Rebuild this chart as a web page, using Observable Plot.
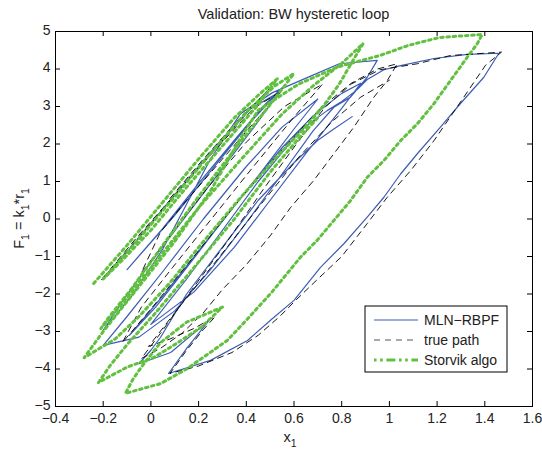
<!DOCTYPE html>
<html><head><meta charset="utf-8">
<script src="https://cdn.jsdelivr.net/npm/d3@7"></script>
<script src="https://cdn.jsdelivr.net/npm/@observablehq/plot@0.6"></script>
<style>body{margin:0;background:#fff}svg{font-family:"Liberation Sans",Arial,sans-serif}</style>
</head><body><div id="chart"></div>
<script>
const xTicks = [-0.4,-0.2,0,0.2,0.4,0.6,0.8,1,1.2,1.4,1.6];
const yTicks = [-5,-4,-3,-2,-1,0,1,2,3,4,5];
const seriesNames = ["MLN−RBPF","true path","Storvik algo"];
const titleText = "Validation: BW hysteretic loop";

const mlnRbpf = [
 [-0.19,-1.55],[-0.05,-0.5],[0.12,0.8],[0.28,2.0],[0.42,2.95],[0.53,3.35],
 [0.42,2.6],[0.26,1.35],[0.1,0.1],[-0.1,-1.35],
 [0.05,-0.25],[0.2,0.95],[0.35,2.1],[0.47,3.0],[0.55,3.5],
 [0.45,2.6],[0.3,1.35],[0.15,0.1],[0.0,-1.15],[-0.12,-2.2],[-0.2,-2.97],
 [-0.08,-2.05],[0.05,-0.8],[0.15,0.4],[0.25,1.6],[0.376,2.81],[0.51,3.37],[0.655,3.77],[0.79,4.14],[0.949,4.23],
 [0.907,3.78],[0.837,3.25],[0.767,2.98],[0.68,2.35],[0.55,1.2],[0.4,-0.1],[0.25,-1.35],[0.1,-2.45],[-0.05,-3.15],[-0.2,-3.37],
 [-0.1,-2.6],[0.05,-1.4],[0.22,0.0],[0.4,1.4],[0.55,2.45],[0.7,3.2],
 [0.6,2.4],[0.45,1.15],[0.3,-0.05],[0.15,-1.3],[0.02,-2.35],[-0.09,-3.1],
 [0.05,-2.05],[0.22,-0.7],[0.4,0.75],[0.55,1.9],[0.68,2.75],[0.8,3.35],[0.88,3.62],
 [0.8,2.95],[0.65,1.75],[0.5,0.5],[0.35,-0.75],[0.18,-1.95],[0.0,-2.81],
 [0.15,-1.6],[0.3,-0.3],[0.45,1.0],[0.56,1.85],[0.627,2.36],[0.683,2.63],[0.739,2.89],[0.795,3.11],[0.865,3.45],[0.907,3.72],[0.977,3.98],[1.047,4.09],[1.187,4.28],[1.327,4.39],[1.459,4.42],
 [1.396,3.78],[1.298,3.08],[1.214,2.45],[1.117,1.74],[1.047,1.2],[0.977,0.58],[0.907,0.05],[0.809,-0.66],[0.711,-1.29],[0.6,-2.17],[0.505,-2.68],[0.405,-3.24],[0.25,-3.77],[0.074,-4.12],
 [0.15,-3.45],[0.243,-2.71],
 [0.083,-3.56],[-0.05,-3.86],
 [0.0,-3.5],[0.04,-3.16],[0.15,-2.0],[0.3,-0.75],[0.45,0.5],[0.6,1.5],[0.7,2.1],[0.767,2.4],[0.844,2.73]
];

const truePath = [
 [0.08,0.55],[0.22,1.6],[0.36,2.6],[0.5,3.5],
 [0.42,2.95],[0.26,1.8],[0.1,0.65],[-0.06,-0.5],[-0.21,-1.64],
 [-0.07,-0.62],[0.1,0.62],[0.27,1.85],[0.43,2.95],[0.55,3.42],
 [0.45,2.7],[0.3,1.6],[0.15,0.5],[0.04,-0.35],[-0.04,-1.43],
 [0.08,-0.45],[0.24,0.85],[0.4,2.05],[0.56,3.0],[0.72,3.6],
 [0.6,2.72],[0.43,1.4],[0.26,0.05],[0.09,-1.3],[-0.04,-2.35],[-0.12,-3.3],
 [0.0,-2.4],[0.18,-1.0],[0.37,0.5],[0.55,1.85],[0.71,2.95],[0.84,3.62],[0.95,4.0],[1.033,4.14],
 [0.991,3.69],[0.935,3.25],[0.851,2.45],[0.767,1.74],[0.683,1.03],[0.586,0.31],[0.5,-0.45],[0.4,-1.22],[0.3,-1.88],[0.22,-2.5],[0.13,-3.05],[0.04,-3.45],[-0.04,-3.72],
 [0.04,-3.05],[0.17,-1.9],[0.32,-0.6],[0.47,0.78],[0.61,2.0],[0.73,2.98],[0.84,3.6],[0.96,3.98],[1.117,4.14],[1.256,4.36],[1.47,4.45],
 [1.403,4.1],[1.312,3.25],[1.187,2.09],[1.089,1.29],[0.991,0.58],[0.907,-0.12],[0.8,-1.0],[0.7,-1.6],[0.61,-2.15],[0.54,-2.6],[0.45,-3.1],[0.34,-3.56],[0.2,-3.92],[0.08,-4.12],
 [0.15,-3.5],[0.22,-2.95],[0.27,-2.6],
 [0.18,-2.92],[0.08,-3.2],[-0.01,-3.4],
 [0.1,-2.5],[0.27,-1.15],[0.45,0.3],[0.62,1.65],[0.76,2.6],[0.88,3.25],[1.0,3.7]
];

const storvik = [
 [-0.24,-1.72],[-0.1,-0.7],[0.05,0.45],[0.2,1.6],[0.35,2.7],[0.45,3.3],[0.53,3.74],
 [0.45,3.05],[0.3,1.95],[0.15,0.85],[0.0,-0.3],[-0.12,-1.1],[-0.2,-1.6],
 [-0.06,-0.6],[0.1,0.6],[0.25,1.75],[0.4,2.85],[0.52,3.55],[0.6,3.88],
 [0.5,3.05],[0.35,1.85],[0.2,0.6],[0.05,-0.7],[-0.08,-1.85],[-0.18,-2.65],[-0.21,-2.92],
 [-0.1,-2.1],[0.05,-0.9],[0.2,0.3],[0.38,1.6],[0.55,2.8],[0.68,3.55],[0.8,4.15],[0.89,4.68],
 [0.84,4.15],[0.79,3.6],[0.73,3.07],[0.66,2.54],[0.52,1.6],[0.376,0.57],[0.22,-0.6],[0.08,-1.7],[-0.05,-2.6],[-0.15,-3.2],[-0.28,-3.7],
 [-0.2,-3.0],[-0.05,-1.8],[0.1,-0.6],[0.25,0.75],[0.38,2.2],[0.45,2.9],[0.62,3.6],[0.78,4.05],[0.96,4.36],[1.08,4.63],[1.21,4.84],[1.389,4.92],
 [1.368,4.67],[1.326,4.31],[1.256,3.69],[1.186,3.07],[1.117,2.54],[1.047,2.09],[0.977,1.56],[0.907,1.11],[0.837,0.49],[0.767,-0.04],[0.697,-0.57],[0.627,-1.02],[0.506,-1.96],[0.4,-2.7],[0.32,-3.24],[0.15,-4.0],[0.04,-4.39],[-0.107,-4.65],
 [-0.075,-4.27],[-0.04,-3.95],[0.04,-3.3],[0.15,-2.75],[0.3,-2.35],
 [0.21,-2.89],[0.1,-3.35],[0.01,-3.7],[-0.1,-3.95],[-0.22,-4.36],
 [-0.17,-3.9],[-0.1,-3.35],[0.02,-2.5],[0.18,-1.3],[0.35,0.0],[0.5,1.25],[0.62,2.15],[0.7,2.7]
];

const BLUE = "#3d5db4", GREEN = "#62c040", BLACK = "#000";
const W = 542, H = 451, mL = 55, mR = 10, mT = 31, mB = 45;
const iw = W - mL - mR, ih = H - mT - mB;
const fmt = d => (d < 0 ? "−" : "") + String(Math.abs(Math.round(d * 10) / 10));
const px = d => d[0], py = d => d[1];
const GDASH = "2.6,3.6";

const svg = Plot.plot({
  width: W, height: H, marginLeft: mL, marginRight: mR, marginTop: mT, marginBottom: mB,
  style: {fontFamily: "'Liberation Sans', Arial, sans-serif", fontSize: "14px", background: "white", color: "#222", overflow: "visible"},
  x: {domain: [-0.4, 1.6]},
  y: {domain: [-5, 5]},
  marks: [
    Plot.line(mlnRbpf, {x: px, y: py, stroke: BLUE, strokeWidth: 1.2}),
    Plot.line(truePath, {x: px, y: py, stroke: BLACK, strokeWidth: 0.9, strokeDasharray: "6,5"}),
    Plot.line(storvik, {x: px, y: py, stroke: GREEN, strokeWidth: 3, strokeDasharray: GDASH}),
    Plot.tickX(xTicks, {x: d => d, insetTop: ih - 5, stroke: "black"}),
    Plot.tickX(xTicks, {x: d => d, insetBottom: ih - 5, stroke: "black"}),
    Plot.tickY(yTicks, {y: d => d, insetRight: iw - 5, stroke: "black"}),
    Plot.tickY(yTicks, {y: d => d, insetLeft: iw - 5, stroke: "black"}),
    Plot.axisX({ticks: xTicks, tickSize: 0, tickPadding: 7, tickFormat: fmt, label: null, fontSize: 14}),
    Plot.axisY({ticks: yTicks, tickSize: 0, tickPadding: 5, tickFormat: fmt, label: null, fontSize: 14, dy: -1}),
    Plot.frame({stroke: "black"})
  ]
});

const s = d3.select(svg);
s.append("text").attr("x", mL + iw / 2).attr("y", 19).attr("text-anchor", "middle")
  .attr("font-size", 14.5).attr("fill", "#222").text(titleText);

const xl = s.append("text").attr("x", 290).attr("y", 442).attr("text-anchor", "middle").attr("font-size", 14.5).attr("fill", "#222");
xl.append("tspan").text("x");
xl.append("tspan").attr("dy", 5).attr("font-size", 10.5).text("1");

const yl = s.append("text").attr("transform", `translate(24,${mT + ih / 2}) rotate(-90)`)
  .attr("text-anchor", "middle").attr("font-size", 14.5).attr("fill", "#222");
yl.append("tspan").text("F");
yl.append("tspan").attr("dy", 5).attr("font-size", 10.5).text("1");
yl.append("tspan").attr("dy", -5).text(" = k");
yl.append("tspan").attr("dy", 5).attr("font-size", 10.5).text("1");
yl.append("tspan").attr("dy", -5).text("*r");
yl.append("tspan").attr("dy", 5).attr("font-size", 10.5).text("1");

// legend
const lg = s.append("g").attr("transform", "translate(365,306)");
lg.append("rect").attr("width", 142).attr("height", 66).attr("fill", "white").attr("stroke", "black");
const styles = [
  {stroke: BLUE, w: 1.2, dash: null},
  {stroke: "#555", w: 1, dash: "6,5"},
  {stroke: GREEN, w: 3, dash: "2.6,3.6,2.6,3.6,9,3.6"}
];
seriesNames.forEach((name, i) => {
  const y = 14 + i * 20;
  lg.append("line").attr("x1", 9).attr("x2", 53).attr("y1", y).attr("y2", y)
    .attr("stroke", styles[i].stroke).attr("stroke-width", styles[i].w)
    .attr("stroke-dasharray", styles[i].dash);
  lg.append("text").attr("x", 59).attr("y", y + 5).attr("text-anchor", "start")
    .attr("font-size", 14).attr("fill", "#222").text(name);
});

document.getElementById("chart").appendChild(svg);
</script></body></html>
